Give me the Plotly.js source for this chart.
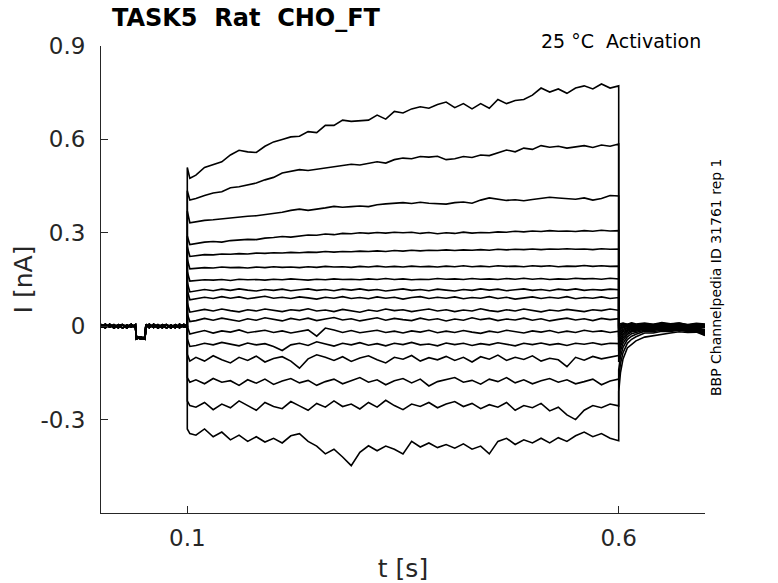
<!DOCTYPE html>
<html>
<head>
<meta charset="utf-8">
<script src="https://cdn.plot.ly/plotly-3.0.1.min.js"></script>
<style>
  html, body { margin: 0; padding: 0; background: #fff; }
  #plot { width: 778px; height: 583px; }
</style>
</head>
<body>
<div id="plot"></div>
<script>
// Time bases (s)
const preT = [0, 0.005, 0.01, 0.015, 0.02, 0.025, 0.03, 0.035, 0.04, 0.041, 0.046, 0.051,
  0.052, 0.056, 0.061, 0.066, 0.071, 0.076, 0.081, 0.086, 0.091, 0.096, 0.1];
const stepT = [0.1, 0.103,
  0.11, 0.12, 0.13, 0.14, 0.15, 0.16, 0.17, 0.18, 0.19, 0.20,
  0.21, 0.22, 0.23, 0.24, 0.25, 0.26, 0.27, 0.28, 0.29, 0.30,
  0.31, 0.32, 0.33, 0.34, 0.35, 0.36, 0.37, 0.38, 0.39, 0.40,
  0.41, 0.42, 0.43, 0.44, 0.45, 0.46, 0.47, 0.48, 0.49, 0.50,
  0.51, 0.52, 0.53, 0.54, 0.55, 0.56, 0.57, 0.58, 0.59, 0.60];
const tailT = [0.6, 0.602, 0.605, 0.61, 0.615, 0.62, 0.63, 0.64, 0.65, 0.66, 0.67, 0.68, 0.69, 0.7];

// Holding current before the step (nA), three overlapping variants
const preA = [0.002, -0.005, 0.006, -0.004, 0.005, -0.006, 0.004, -0.003, 0.005, -0.036, -0.041, -0.035,
  0.004, -0.005, 0.006, -0.004, 0.005, -0.006, 0.004, -0.005, 0.006, -0.003, 0.0];
const preB = [-0.004, 0.006, -0.003, 0.005, -0.005, 0.004, -0.006, 0.005, -0.004, -0.041, -0.034, -0.04,
  -0.003, 0.006, -0.004, 0.005, -0.005, 0.004, -0.006, 0.005, -0.004, 0.006, 0.0];
const preC = [0.006, -0.003, 0.004, -0.006, 0.003, 0.005, -0.003, 0.006, -0.005, -0.033, -0.039, -0.042,
  0.006, -0.003, 0.004, -0.006, 0.003, 0.005, -0.004, 0.004, -0.005, 0.004, 0.0];

// Current during the step, one row per sweep (top to bottom)
const stepI = [
  [0.51, 0.475,
   0.485, 0.51, 0.52, 0.528, 0.55, 0.565, 0.56, 0.558, 0.578, 0.592,
   0.6, 0.608, 0.61, 0.625, 0.622, 0.645, 0.645, 0.662, 0.658, 0.66,
   0.662, 0.678, 0.665, 0.69, 0.685, 0.698, 0.705, 0.7, 0.712, 0.72,
   0.702, 0.715, 0.698, 0.715, 0.7, 0.728, 0.715, 0.725, 0.728, 0.742,
   0.765, 0.752, 0.762, 0.748, 0.765, 0.772, 0.762, 0.778, 0.765, 0.772],
  [0.435, 0.405,
   0.41, 0.42, 0.428, 0.432, 0.445, 0.448, 0.455, 0.46, 0.47, 0.478,
   0.492, 0.498, 0.503, 0.5, 0.504, 0.506, 0.512, 0.516, 0.52, 0.518,
   0.522, 0.528, 0.524, 0.535, 0.54, 0.538, 0.545, 0.543, 0.546, 0.535,
   0.538, 0.545, 0.542, 0.55, 0.548, 0.556, 0.566, 0.56, 0.572, 0.568,
   0.58, 0.575, 0.578, 0.572, 0.576, 0.58, 0.574, 0.582, 0.578, 0.585],
  [0.37, 0.332,
   0.336, 0.34, 0.342, 0.345, 0.349, 0.35, 0.353, 0.355, 0.358, 0.362,
   0.366, 0.372, 0.376, 0.372, 0.375, 0.38, 0.385, 0.382, 0.384, 0.386,
   0.384, 0.39, 0.393, 0.396, 0.397, 0.394, 0.398, 0.395, 0.393, 0.392,
   0.397, 0.399, 0.395, 0.405, 0.412, 0.408, 0.404, 0.406, 0.403, 0.407,
   0.41, 0.414, 0.412, 0.41, 0.408, 0.412, 0.405, 0.41, 0.42, 0.418],
  [0.29, 0.262,
   0.266, 0.27, 0.272, 0.27, 0.275, 0.277, 0.279, 0.278, 0.283, 0.285,
   0.288, 0.286, 0.29, 0.293, 0.292, 0.296, 0.294, 0.298, 0.297, 0.3,
   0.298, 0.301, 0.299, 0.302, 0.3, 0.302, 0.298, 0.301, 0.297, 0.3,
   0.298, 0.302, 0.299, 0.301, 0.3, 0.303, 0.302, 0.305, 0.303, 0.306,
   0.304, 0.307, 0.305, 0.306, 0.304, 0.307, 0.305, 0.308, 0.306, 0.307],
  [0.255, 0.224,
   0.227, 0.23, 0.229, 0.232, 0.231, 0.233, 0.232, 0.235, 0.234, 0.236,
   0.235, 0.237, 0.236, 0.238, 0.237, 0.24, 0.238, 0.24, 0.239, 0.241,
   0.24, 0.242, 0.24, 0.243, 0.241, 0.244, 0.242, 0.244, 0.243, 0.245,
   0.243, 0.245, 0.244, 0.246, 0.244, 0.247, 0.245, 0.247, 0.246, 0.248,
   0.246, 0.248, 0.247, 0.249, 0.247, 0.248, 0.246, 0.249, 0.247, 0.248],
  [0.215, 0.184,
   0.186, 0.188, 0.187, 0.19, 0.188, 0.189, 0.187, 0.19, 0.188, 0.191,
   0.189, 0.19, 0.188, 0.191, 0.189, 0.192, 0.19, 0.191, 0.189, 0.192,
   0.19, 0.193, 0.19, 0.192, 0.19, 0.193, 0.191, 0.192, 0.19, 0.193,
   0.191, 0.194, 0.191, 0.193, 0.191, 0.194, 0.192, 0.193, 0.191, 0.194,
   0.192, 0.194, 0.191, 0.193, 0.192, 0.195, 0.192, 0.194, 0.192, 0.193],
  [0.175, 0.145,
   0.147, 0.149, 0.148, 0.15, 0.147, 0.151, 0.149, 0.15, 0.148, 0.151,
   0.149, 0.152, 0.15, 0.148, 0.151, 0.149, 0.152, 0.15, 0.151, 0.149,
   0.152, 0.15, 0.153, 0.15, 0.152, 0.149, 0.151, 0.15, 0.153, 0.151,
   0.152, 0.15, 0.153, 0.151, 0.152, 0.15, 0.153, 0.151, 0.154, 0.151,
   0.153, 0.15, 0.152, 0.151, 0.154, 0.152, 0.153, 0.151, 0.154, 0.152],
  [0.14, 0.11,
   0.113, 0.118, 0.114, 0.119, 0.115, 0.12, 0.116, 0.113, 0.118, 0.115,
   0.119, 0.114, 0.117, 0.12, 0.115, 0.118, 0.114, 0.119, 0.116, 0.12,
   0.115, 0.118, 0.113, 0.117, 0.12, 0.115, 0.118, 0.114, 0.119, 0.116,
   0.113, 0.118, 0.115, 0.12, 0.116, 0.119, 0.114, 0.117, 0.12, 0.115,
   0.118, 0.114, 0.119, 0.116, 0.12, 0.115, 0.118, 0.116, 0.119, 0.117],
  [0.115, 0.085,
   0.088, 0.093, 0.089, 0.095, 0.09, 0.094, 0.088, 0.092, 0.096, 0.09,
   0.093, 0.089, 0.094, 0.091, 0.087, 0.093, 0.09, 0.095, 0.089, 0.092,
   0.088, 0.094, 0.09, 0.093, 0.087, 0.092, 0.095, 0.089, 0.093, 0.09,
   0.094, 0.088, 0.092, 0.09, 0.095, 0.089, 0.093, 0.087, 0.091, 0.094,
   0.089, 0.093, 0.09, 0.095, 0.088, 0.092, 0.09, 0.094, 0.089, 0.092],
  [0.075, 0.045,
   0.048, 0.054, 0.049, 0.055, 0.05, 0.046, 0.053, 0.049, 0.055, 0.05,
   0.047, 0.053, 0.05, 0.056, 0.049, 0.052, 0.047, 0.054, 0.05, 0.045,
   0.052, 0.048, 0.055, 0.05, 0.053, 0.047, 0.051, 0.055, 0.049, 0.053,
   0.047, 0.052, 0.049, 0.056, 0.05, 0.047, 0.053, 0.049, 0.055, 0.05,
   0.046, 0.052, 0.049, 0.054, 0.05, 0.047, 0.053, 0.05, 0.055, 0.051],
  [0.04, 0.015,
   0.018, 0.025, 0.019, 0.026, 0.02, 0.016, 0.024, 0.019, 0.027, 0.021,
   0.017, 0.025, 0.02, 0.026, 0.018, 0.023, 0.028, 0.02, 0.024, 0.017,
   0.022, 0.027, 0.019, 0.025, 0.021, 0.018, 0.026, 0.02, 0.024, 0.017,
   0.023, 0.019, 0.027, 0.021, 0.025, 0.018, 0.023, 0.02, 0.026, 0.019,
   0.024, 0.017, 0.022, 0.026, 0.02, 0.024, 0.018, 0.025, 0.021, 0.024],
  [0.0, -0.025,
   -0.02, -0.014, -0.022, -0.015, -0.019, -0.012, -0.021, -0.016, -0.013, -0.02,
   -0.015, -0.022, -0.017, -0.012, -0.032, -0.006, -0.012, -0.02, -0.014, -0.021,
   -0.017, -0.013, -0.02, -0.016, -0.022, -0.015, -0.019, -0.013, -0.021, -0.016,
   -0.02, -0.014, -0.019, -0.023, -0.016, -0.02, -0.013, -0.018, -0.022, -0.015,
   -0.019, -0.014, -0.021, -0.016, -0.02, -0.013, -0.018, -0.015, -0.02, -0.016],
  [-0.04, -0.065,
   -0.062, -0.055, -0.06, -0.052, -0.058, -0.063, -0.054, -0.06, -0.056, -0.065,
   -0.078, -0.06, -0.055, -0.062, -0.05, -0.058, -0.064, -0.055, -0.06, -0.053,
   -0.061, -0.056, -0.063, -0.055, -0.059, -0.052, -0.06, -0.057, -0.063, -0.054,
   -0.059, -0.055, -0.062, -0.056, -0.06, -0.053, -0.058, -0.063, -0.055, -0.059,
   -0.054, -0.06, -0.056, -0.062, -0.055, -0.058, -0.053, -0.059, -0.055, -0.056],
  [-0.09, -0.112,
   -0.1, -0.112, -0.095, -0.108, -0.118, -0.1, -0.11, -0.096, -0.115, -0.104,
   -0.098, -0.112, -0.135, -0.105, -0.092, -0.1, -0.11, -0.098, -0.113, -0.102,
   -0.095, -0.108, -0.118, -0.1, -0.106, -0.094, -0.112, -0.101, -0.108, -0.097,
   -0.11, -0.1, -0.115, -0.098, -0.106, -0.093, -0.11, -0.1, -0.107, -0.095,
   -0.112, -0.103, -0.108, -0.13, -0.1, -0.109, -0.097, -0.105, -0.099, -0.094],
  [-0.165, -0.18,
   -0.172, -0.185, -0.168, -0.18, -0.175, -0.19, -0.172, -0.183, -0.17, -0.187,
   -0.176, -0.168, -0.182, -0.174, -0.19, -0.178, -0.17, -0.185, -0.176, -0.165,
   -0.18, -0.172, -0.188, -0.175, -0.168, -0.182, -0.17, -0.192, -0.178, -0.172,
   -0.165, -0.18, -0.174, -0.186, -0.17, -0.178, -0.165, -0.182, -0.172, -0.185,
   -0.175, -0.168, -0.18, -0.172, -0.185, -0.178, -0.17, -0.188, -0.176, -0.17],
  [-0.24, -0.255,
   -0.26, -0.245, -0.268, -0.25, -0.262, -0.24, -0.255, -0.27, -0.245, -0.258,
   -0.265, -0.242, -0.256, -0.27, -0.248, -0.26, -0.24, -0.258, -0.25, -0.266,
   -0.245, -0.26, -0.238, -0.255, -0.268, -0.25, -0.258, -0.245, -0.262, -0.25,
   -0.242, -0.258, -0.248, -0.265, -0.252, -0.26, -0.245, -0.27, -0.255, -0.262,
   -0.248, -0.272, -0.26, -0.285, -0.3, -0.27, -0.255, -0.262, -0.25, -0.256],
  [-0.33, -0.345,
   -0.35, -0.33, -0.355, -0.34, -0.365, -0.35, -0.37, -0.355, -0.372, -0.36,
   -0.375, -0.352, -0.345, -0.37, -0.385, -0.41, -0.395, -0.42, -0.448, -0.405,
   -0.384, -0.4, -0.385, -0.395, -0.41, -0.37, -0.388, -0.375, -0.39, -0.38,
   -0.392, -0.378, -0.395, -0.385, -0.41, -0.37, -0.36, -0.38, -0.365, -0.375,
   -0.36, -0.375, -0.358, -0.37, -0.352, -0.34, -0.355, -0.345, -0.36, -0.368]
];

// Tail current after the step, same sweep order
const tailI = [
  [0.005, 0.008, 0.01, 0.006, 0.011, 0.007, 0.01, 0.006, 0.012, 0.008, 0.01, 0.005, 0.009, 0.007],
  [0.0, 0.004, 0.008, 0.005, 0.009, 0.004, 0.008, 0.005, 0.009, 0.006, 0.01, 0.004, 0.008, 0.005],
  [-0.005, 0.002, 0.005, 0.003, 0.007, 0.002, 0.006, 0.003, 0.008, 0.004, 0.006, 0.002, 0.007, 0.004],
  [-0.01, -0.003, 0.002, 0.001, 0.005, 0.0, 0.004, 0.001, 0.006, 0.002, 0.005, 0.0, 0.004, 0.002],
  [-0.015, -0.008, -0.002, 0.0, 0.003, -0.001, 0.003, 0.0, 0.004, 0.001, 0.003, -0.002, 0.002, 0.0],
  [-0.02, -0.012, -0.005, -0.002, 0.002, -0.003, 0.002, -0.002, 0.003, 0.0, 0.002, -0.003, 0.001, -0.001],
  [-0.028, -0.018, -0.01, -0.004, 0.0, -0.004, 0.001, -0.003, 0.002, -0.002, 0.001, -0.004, 0.0, -0.002],
  [-0.035, -0.024, -0.014, -0.007, -0.002, -0.005, 0.0, -0.004, 0.001, -0.003, 0.0, -0.005, -0.001, -0.003],
  [-0.045, -0.03, -0.018, -0.01, -0.004, -0.007, -0.002, -0.005, 0.0, -0.004, -0.001, -0.006, -0.003, -0.005],
  [-0.055, -0.038, -0.024, -0.013, -0.007, -0.009, -0.003, -0.007, -0.002, -0.005, -0.002, -0.008, -0.004, -0.012],
  [-0.065, -0.046, -0.03, -0.017, -0.01, -0.011, -0.005, -0.008, -0.003, -0.007, -0.004, -0.009, -0.006, -0.015],
  [-0.08, -0.056, -0.037, -0.022, -0.014, -0.013, -0.007, -0.01, -0.005, -0.008, -0.006, -0.01, -0.008, -0.018],
  [-0.095, -0.066, -0.045, -0.027, -0.018, -0.016, -0.009, -0.012, -0.007, -0.01, -0.007, -0.012, -0.01, -0.02],
  [-0.115, -0.08, -0.055, -0.034, -0.024, -0.02, -0.012, -0.014, -0.009, -0.012, -0.009, -0.013, -0.012, -0.022],
  [-0.14, -0.098, -0.068, -0.043, -0.032, -0.026, -0.016, -0.018, -0.012, -0.014, -0.011, -0.015, -0.014, -0.025],
  [-0.17, -0.12, -0.085, -0.055, -0.042, -0.034, -0.022, -0.022, -0.016, -0.017, -0.013, -0.017, -0.016, -0.028],
  [-0.21, -0.15, -0.105, -0.07, -0.058, -0.047, -0.035, -0.03, -0.025, -0.022, -0.018, -0.02, -0.019, -0.03]
];

const xTicks = [0.1, 0.6];
const xTickText = ['0.1', '0.6'];
const yTicks = [-0.3, 0, 0.3, 0.6, 0.9];
const yTickText = ['-0.3', '0', '0.3', '0.6', '0.9'];

const FONT = 'DejaVu Sans, Liberation Sans, sans-serif';
const INK = '#262626';
const preSets = [preA, preB, preC];

const data = stepI.map((step, i) => ({
  x: preT.concat(stepT, tailT),
  y: preSets[i % 3].concat(step, tailI[i]),
  type: 'scatter',
  mode: 'lines',
  hoverinfo: 'skip',
  showlegend: false,
  line: { color: '#000', width: 1.6 }
}));

const axisBase = {
  showgrid: false,
  zeroline: false,
  showline: true,
  linecolor: INK,
  linewidth: 1,
  mirror: false,
  ticks: 'inside',
  ticklen: 7,
  tickwidth: 1,
  tickcolor: INK,
  tickfont: { family: FONT, size: 23, color: INK }
};

const layout = {
  width: 778,
  height: 583,
  paper_bgcolor: '#fff',
  plot_bgcolor: '#fff',
  margin: { l: 101, r: 73, t: 46, b: 70 },
  font: { family: FONT, color: INK },
  title: {
    text: '<b>TASK5\u00a0\u00a0Rat\u00a0\u00a0CHO_FT</b>',
    font: { family: FONT, size: 24, color: '#000' },
    xref: 'paper', x: 0.24, xanchor: 'center',
    yref: 'container', y: 0.969, yanchor: 'middle'
  },
  xaxis: {
    ...axisBase,
    range: [0, 0.7],
    tickvals: xTicks,
    ticktext: xTickText,
    ticklabelstandoff: 4,
    title: { text: 't [s]', font: { family: FONT, size: 25, color: INK }, standoff: 10 }
  },
  yaxis: {
    ...axisBase,
    range: [-0.6, 0.9],
    tickvals: yTicks,
    ticktext: yTickText,
    ticklabelstandoff: 10,
    title: { text: 'I [nA]', font: { family: FONT, size: 25, color: INK }, standoff: 0 }
  },
  annotations: [
    {
      text: '25 °C\u00a0\u00a0Activation',
      xref: 'paper', yref: 'paper', x: 0.997, y: 1.0107,
      xanchor: 'right', yanchor: 'middle', showarrow: false,
      font: { family: FONT, size: 19, color: '#000' }
    },
    {
      text: 'BBP Channelpedia ID 31761 rep 1',
      xref: 'paper', yref: 'paper', x: 1.018, y: 0.505,
      xanchor: 'center', yanchor: 'middle', textangle: -90, showarrow: false,
      font: { family: FONT, size: 14, color: '#000' }
    }
  ]
};

Plotly.newPlot('plot', data, layout, { displayModeBar: false, staticPlot: true });
</script>
</body>
</html>
